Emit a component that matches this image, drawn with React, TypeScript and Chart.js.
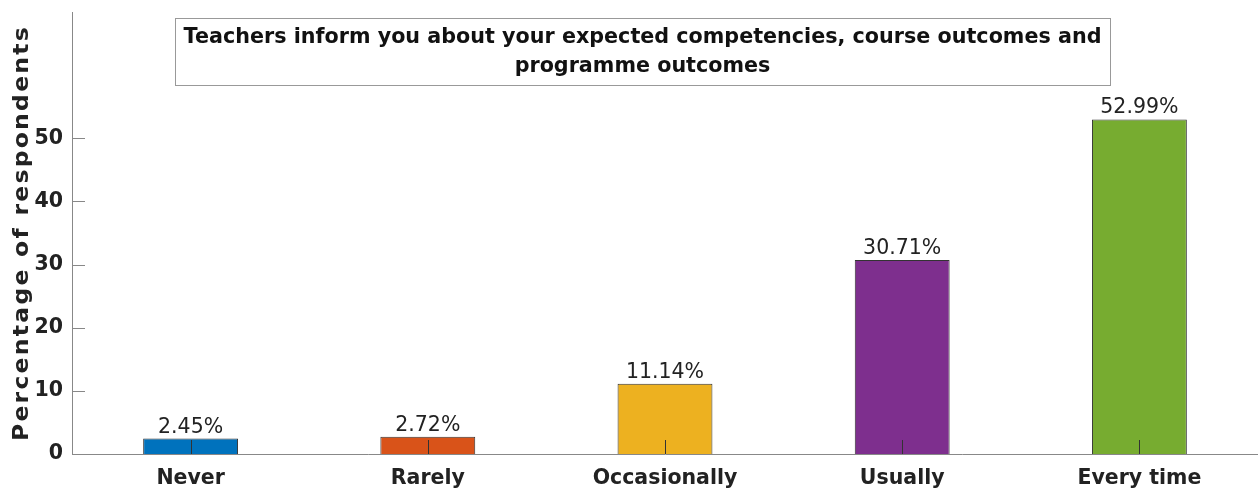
import React, { useEffect, useRef } from "react";
import { Chart, registerables } from "chart.js";

Chart.register(...registerables);

const categories = ["Never", "Rarely", "Occasionally", "Usually", "Every time"];
const percentages = [2.45, 2.72, 11.14, 30.71, 52.99];
const barColors = ["#0072BD", "#D95319", "#EDB120", "#7E2F8E", "#77AC30"];
const yTickValues = [0, 10, 20, 30, 40, 50];
const titleLines = [
  "Teachers inform you about your expected competencies, course outcomes and",
  "programme outcomes",
];
const yAxisLabel = "Percentage of respondents";

const FONT = "'DejaVu Sans', sans-serif";

const overlayPlugin = {
  id: "overlay",
  afterDatasetsDraw(chart: any) {
    const ctx = chart.ctx as CanvasRenderingContext2D;
    const area = chart.chartArea;
    const meta = chart.getDatasetMeta(0);
    const yScale = chart.scales.y;
    ctx.save();

    // value labels
    ctx.font = `20.5px ${FONT}`;
    ctx.fillStyle = "#222";
    ctx.textAlign = "center";
    ctx.textBaseline = "alphabetic";
    meta.data.forEach((bar: any, i: number) => {
      ctx.fillText(percentages[i].toFixed(2) + "%", bar.x, bar.y - 6);
    });

    // x tick marks (drawn on top of bars)
    ctx.strokeStyle = "#333";
    ctx.lineWidth = 1;
    meta.data.forEach((bar: any) => {
      const x = Math.round(bar.x) + 0.5;
      ctx.beginPath();
      ctx.moveTo(x, area.bottom);
      ctx.lineTo(x, area.bottom - 14);
      ctx.stroke();
    });

    // y tick marks
    ctx.strokeStyle = "#888";
    yTickValues.forEach((v) => {
      const y = Math.round(yScale.getPixelForValue(v)) + 0.5;
      ctx.beginPath();
      ctx.moveTo(area.left, y);
      ctx.lineTo(area.left + 13, y);
      ctx.stroke();
    });

    // title box
    const bx = area.left + 103;
    const by = area.top + 6;
    const bw = 935;
    const bh = 67;
    ctx.fillStyle = "#fff";
    ctx.fillRect(bx, by, bw, bh);
    ctx.strokeStyle = "#999";
    ctx.lineWidth = 1;
    ctx.strokeRect(bx + 0.5, by + 0.5, bw, bh);
    ctx.fillStyle = "#111";
    ctx.font = `bold 20.7px ${FONT}`;
    ctx.textAlign = "center";
    ctx.textBaseline = "middle";
    ctx.fillText(titleLines[0], bx + bw / 2, by + 20);
    ctx.fillText(titleLines[1], bx + bw / 2, by + 49);

    // y axis label
    ctx.save();
    ctx.translate(28, (area.top + area.bottom) / 2);
    ctx.rotate(-Math.PI / 2);
    ctx.scale(1.12, 1);
    ctx.font = `bold 21px ${FONT}`;
    (ctx as any).letterSpacing = "2px";
    ctx.fillStyle = "#222";
    ctx.textAlign = "center";
    ctx.textBaseline = "alphabetic";
    ctx.fillText(yAxisLabel, 0, 0);
    ctx.restore();

    ctx.restore();
  },
};

export default function App() {
  const canvasRef = useRef<HTMLCanvasElement | null>(null);

  useEffect(() => {
    if (!canvasRef.current) return;
    const chart = new Chart(canvasRef.current, {
      type: "bar",
      data: {
        labels: categories,
        datasets: [
          {
            data: percentages,
            backgroundColor: barColors,
            borderColor: "#333",
            borderWidth: 1,
            barPercentage: 0.4,
            categoryPercentage: 1,
          },
        ],
      },
      options: {
        responsive: false,
        animation: false,
        layout: { padding: { top: 0, right: 0, left: 0, bottom: 0 } },
        plugins: {
          legend: { display: false },
          tooltip: { enabled: false },
          title: { display: false },
        },
        scales: {
          x: {
            type: "category",
            offset: true,
            grid: { display: false, drawTicks: false },
            border: { display: true, color: "#888", width: 1 },
            ticks: {
              color: "#222",
              font: { family: FONT, size: 20.5, weight: "bold" },
              padding: 12,
              maxRotation: 0,
              autoSkip: false,
            },
            afterFit(scale: any) {
              scale.height = 37;
            },
          },
          y: {
            min: 0,
            max: 70,
            grid: { display: false, drawTicks: false },
            border: { display: true, color: "#888", width: 1 },
            ticks: {
              stepSize: 10,
              color: "#222",
              font: { family: FONT, size: 20.5, weight: "bold" },
              padding: 9,
            },
            afterBuildTicks(scale: any) {
              scale.ticks = yTickValues.map((v) => ({ value: v }));
            },
            afterFit(scale: any) {
              scale.width = 72;
              scale.paddingTop = 12;
            },
          },
        },
      },
      plugins: [overlayPlugin],
    });
    return () => chart.destroy();
  }, []);

  return (
    <div style={{ position: "absolute", left: 0, top: 0, width: 1258, height: 491, background: "#fff" }}>
      <canvas ref={canvasRef} width={1258} height={491} />
    </div>
  );
}
